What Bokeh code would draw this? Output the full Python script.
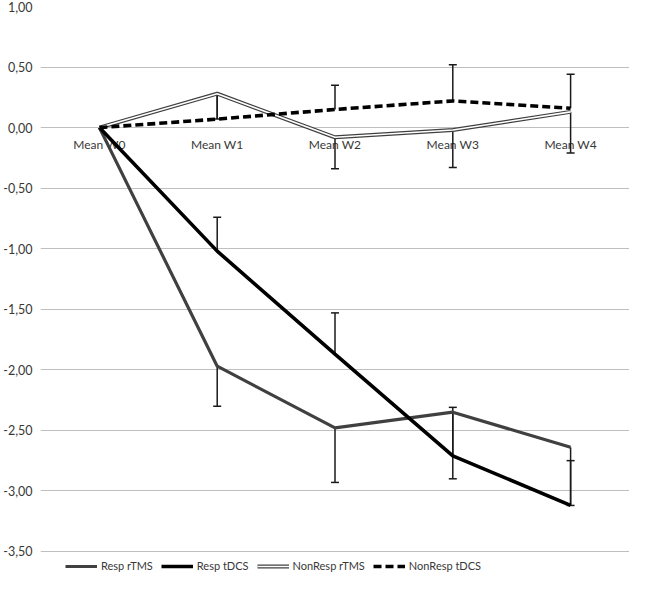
from bokeh.plotting import figure
from bokeh.models import ColumnDataSource, Legend, LegendItem, FixedTicker, Range1d, FactorRange
from bokeh.core.properties import value
from bokeh.embed import file_html
from bokeh.resources import INLINE

categories = ["Mean W0", "Mean W1", "Mean W2", "Mean W3", "Mean W4"]

resp_rtms = [0.0, -1.97, -2.48, -2.35, -2.64]
resp_tdcs = [0.0, -1.02, -1.87, -2.71, -3.12]
nonresp_rtms = [0.0, 0.28, -0.08, -0.02, 0.13]
nonresp_tdcs = [0.0, 0.07, 0.15, 0.22, 0.16]

# error bar magnitudes (rTMS drawn downward, tDCS drawn upward)
resp_rtms_err = [0.0, 0.33, 0.45, 0.55, 0.48]
resp_tdcs_err = [0.0, 0.28, 0.34, 0.40, 0.37]
nonresp_rtms_err = [0.0, 0.21, 0.26, 0.31, 0.34]
nonresp_tdcs_err = [0.0, 0.21, 0.20, 0.30, 0.28]

y_ticks = [1.0, 0.5, 0.0, -0.5, -1.0, -1.5, -2.0, -2.5, -3.0, -3.5]
legend_labels = ["Resp rTMS", "Resp tDCS", "NonResp rTMS", "NonResp tDCS"]

FONT = "Lato"
TEXT_COLOR = "#383838"

p = figure(
    x_range=FactorRange(*categories, range_padding=0),
    y_range=Range1d(-3.682, 1.0),
    width=629, height=575,
    output_backend="svg", toolbar_location=None,
    min_border_top=6, min_border_bottom=2, min_border_left=34, min_border_right=0,
)
p.outline_line_color = None
p.background_fill_color = "white"
p.xaxis.visible = False
p.xgrid.visible = False
p.ygrid.grid_line_color = "#bfbfbf"
p.ygrid.grid_line_width = 1
p.yaxis.ticker = FixedTicker(ticks=y_ticks)
p.yaxis.major_label_overrides = {t: f"{t:.2f}".replace(".", ",") for t in y_ticks}
p.yaxis.axis_line_color = None
p.yaxis.major_tick_line_color = None
p.yaxis.minor_tick_line_color = None
p.yaxis.major_tick_out = 0
p.yaxis.major_tick_in = 0
p.yaxis.major_label_standoff = 8
p.yaxis.major_label_text_font = FONT
p.yaxis.major_label_text_font_size = "12.5px"
p.yaxis.major_label_text_color = TEXT_COLOR

# category labels sitting just below the zero line
lab_src = ColumnDataSource(dict(x=categories, y=[0.0] * len(categories), t=categories))
p.text(x="x", y="y", text="t", source=lab_src, text_align="center", text_baseline="top",
       y_offset=9, text_font=value(FONT), text_font_size="12px", text_color=TEXT_COLOR)


def err_bars(means, errs, direction):
    xs, y0, y1 = [], [], []
    for c, m, e in zip(categories, means, errs):
        if e > 0:
            xs.append(c)
            y0.append(m)
            y1.append(m + direction * e)
    src = ColumnDataSource(dict(x=xs, y0=y0, y1=y1))
    p.segment(x0="x", y0="y0", x1="x", y1="y1", source=src, line_color="#1a1a1a", line_width=1.5)
    p.scatter(x="x", y="y1", source=src, marker="dash", size=8, line_color="#1a1a1a", line_width=1.5)


err_bars(resp_rtms, resp_rtms_err, -1)
err_bars(resp_tdcs, resp_tdcs_err, +1)
err_bars(nonresp_rtms, nonresp_rtms_err, -1)
err_bars(nonresp_tdcs, nonresp_tdcs_err, +1)

r1 = p.line(categories, resp_rtms, line_color="#404040", line_width=3.2)
r2 = p.line(categories, resp_tdcs, line_color="black", line_width=3.6)
r3a = p.line(categories, nonresp_rtms, line_color="#404040", line_width=4)
r3b = p.line(categories, nonresp_rtms, line_color="white", line_width=1.6)
r4 = p.line(categories, nonresp_tdcs, line_color="black", line_width=3.6, line_dash="8 4")

legend = Legend(items=[
    LegendItem(label=legend_labels[0], renderers=[r1]),
    LegendItem(label=legend_labels[1], renderers=[r2]),
    LegendItem(label=legend_labels[2], renderers=[r3a, r3b]),
    LegendItem(label=legend_labels[3], renderers=[r4]),
], orientation="horizontal", location=(25, 1))
legend.background_fill_alpha = 0
legend.border_line_color = None
legend.padding = 0
legend.margin = 0
legend.spacing = 8
legend.glyph_width = 32
legend.glyph_height = 12
legend.label_height = 12
legend.label_standoff = 4
legend.label_text_font = FONT
legend.label_text_font_size = "11px"
legend.label_text_color = TEXT_COLOR
p.add_layout(legend)

open("out.html", "w").write(file_html(p, INLINE))
